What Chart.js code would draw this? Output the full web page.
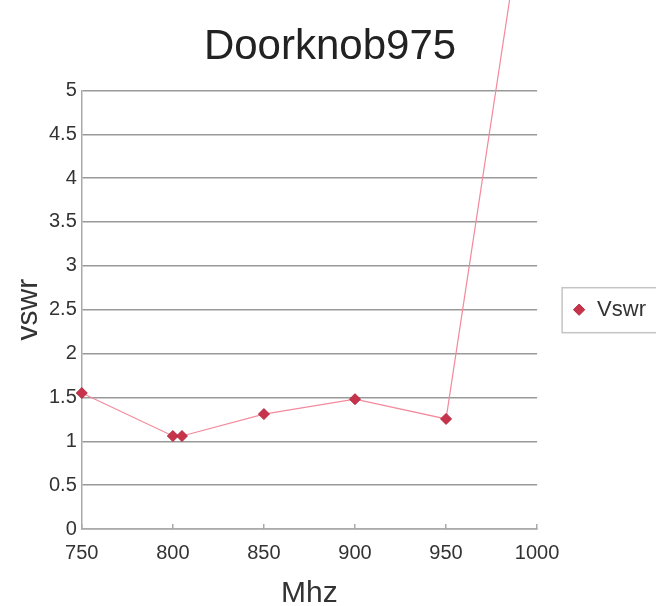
<!DOCTYPE html>
<html>
<head>
<meta charset="utf-8">
<style>
  html, body { margin: 0; padding: 0; background: #fff; }
  #wrap { width: 656px; height: 606px; }
</style>
<script src="https://cdn.jsdelivr.net/npm/chart.js@4.4.1/dist/chart.umd.min.js"></script>
</head>
<body>
<div id="wrap"><canvas id="chart"></canvas></div>
<script>
// Measured points (frequency in MHz, vswr); the last one is off the top of the chart
const freqMhz = [750, 800, 805, 850, 900, 950, 1000];
const vswr = [1.55, 1.06, 1.06, 1.31, 1.48, 1.255, 8.1];
const seriesName = "Vswr";

const font = "'Liberation Sans', Arial, sans-serif";

// draw a thin frame round the legend, like the spreadsheet one
const legendFrame = {
  id: "legendFrame",
  afterDraw(chart) {
    const hb = chart.legend.legendHitBoxes[0];
    if (!hb) return;
    const ctx = chart.ctx;
    ctx.save();
    ctx.strokeStyle = "#c4c4c4";
    ctx.lineWidth = 1.5;
    const cy = hb.top + hb.height / 2;
    ctx.strokeRect(hb.left - 10, cy - 22, 120, 45);
    ctx.restore();
  },
};

const points = freqMhz.map((f, i) => ({ x: f, y: vswr[i] }));

new Chart(document.getElementById("chart"), {
  type: "scatter",
  data: {
    datasets: [
      {
        label: seriesName,
        data: points,
        showLine: true,
        clip: false,
        borderColor: "#f38a9c",
        borderWidth: 1.2,
        backgroundColor: "#c8334c",
        pointStyle: "rectRot",
        pointRadius: 5.5,
        pointBorderColor: "#b02a40",
        pointBorderWidth: 1,
      },
    ],
  },
  plugins: [legendFrame],
  options: {
    responsive: true,
    maintainAspectRatio: false,
    animation: false,
    layout: { padding: { left: 4, right: 0, top: 0, bottom: -3 } },
    plugins: {
      tooltip: { enabled: false },
      title: {
        display: true,
        text: "Doorknob975",
        color: "#222",
        font: { family: font, size: 42, weight: "normal" },
        padding: { top: 22, bottom: 18 },
      },
      legend: {
        position: "right",
        fullSize: false,
        labels: {
          usePointStyle: true,
          boxWidth: 14,
          boxHeight: 8,
          padding: 35,
          color: "#333",
          font: { family: font, size: 22 },
        },
      },
    },
    scales: {
      x: {
        type: "linear",
        min: 750,
        max: 1000,
        ticks: {
          stepSize: 50,
          color: "#333",
          padding: 19,
          font: { family: font, size: 20, lineHeight: 1 },
          callback: (v) => String(v),
        },
        grid: { drawOnChartArea: false, tickLength: -5, color: "#aaa", lineWidth: 1.5 },
        border: { color: "#aaa", width: 1.5 },
        title: {
          display: true,
          text: "Mhz",
          color: "#333",
          font: { family: font, size: 30, lineHeight: 1 },
          padding: { top: -3, bottom: 0 },
        },
      },
      y: {
        min: 0,
        max: 5,
        ticks: {
          stepSize: 0.5,
          color: "#333",
          padding: 5,
          font: { family: font, size: 20 },
          callback: (v) => String(v),
        },
        grid: { drawTicks: false, color: "#999", lineWidth: 1.5 },
        border: { color: "#aaa", width: 1.5 },
        title: {
          display: true,
          text: "vswr",
          color: "#333",
          font: { family: font, size: 30, lineHeight: 1 },
          padding: { top: 10, bottom: 0 },
        },
      },
    },
  },
});
</script>
</body>
</html>
